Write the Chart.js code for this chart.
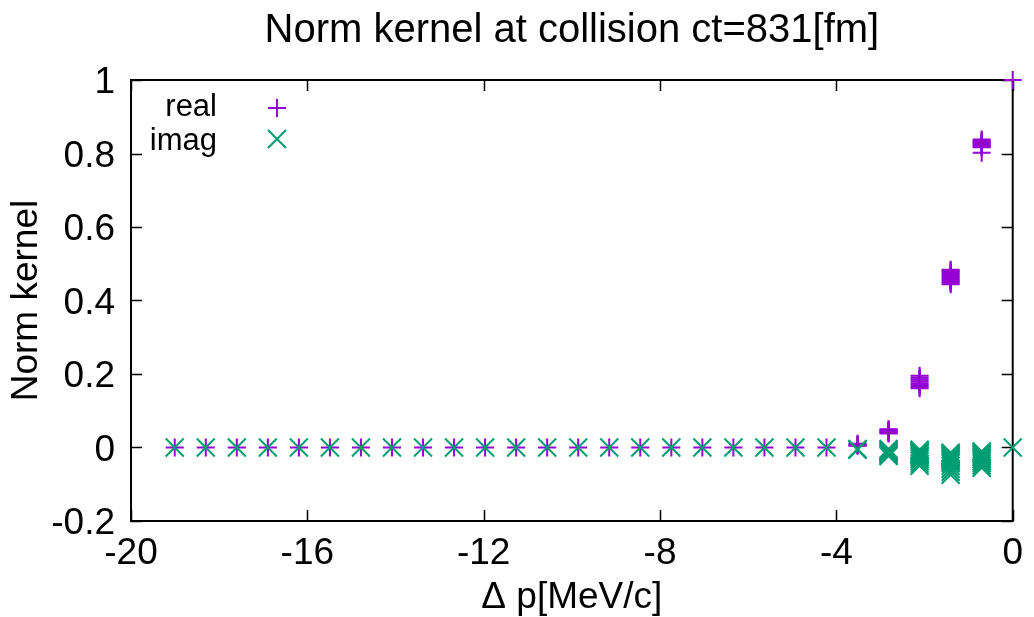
<!DOCTYPE html>
<html><head><meta charset="utf-8">
<script src="https://cdn.jsdelivr.net/npm/chart.js@4/dist/chart.umd.min.js"></script>
<style>html,body{margin:0;padding:0;background:#fff}#wrap{width:1034px;height:617px}</style>
</head><body><div id="wrap"><canvas id="c" width="1034" height="617"></canvas></div>
<script>
// Δp values (MeV/c), one per column of points
const dp = [0, -0.704, -1.408, -2.112, -2.816, -3.52, -4.224, -4.928, -5.632, -6.336,
  -7.04, -7.744, -8.448, -9.152, -9.856, -10.56, -11.264, -11.968, -12.672, -13.376,
  -14.08, -14.784, -15.488, -16.192, -16.896, -17.6, -18.304, -19.008];
// real part: several samples per column
const realVals = [
  [1.0],
  [0.838, 0.835, 0.832, 0.829, 0.826, 0.823, 0.82, 0.817, 0.802],
  [0.484, 0.48, 0.476, 0.472, 0.468, 0.464, 0.46, 0.456, 0.452, 0.448, 0.444],
  [0.195, 0.19, 0.185, 0.18, 0.175, 0.17, 0.165, 0.161],
  [0.05, 0.048, 0.046, 0.044, 0.042, 0.04, 0.038],
  [0.01, 0.008, 0.006, 0.005],
  [0], [0], [0], [0], [0], [0], [0], [0], [0], [0], [0], [0], [0], [0], [0], [0], [0], [0], [0], [0], [0], [0]
];
// imaginary part: several samples per column
const imagVals = [
  [0],
  [-0.011, -0.014, -0.017, -0.02, -0.024, -0.028, -0.032, -0.037, -0.043, -0.049, -0.055],
  [-0.014, -0.017, -0.02, -0.023, -0.026, -0.03, -0.034, -0.038, -0.043, -0.05, -0.058, -0.066, -0.074],
  [-0.006, -0.009, -0.012, -0.015, -0.018, -0.022, -0.026, -0.031, -0.037, -0.044, -0.05],
  [-0.004, -0.007, -0.01, -0.013, -0.016, -0.02, -0.023],
  [-0.004, -0.006],
  [0], [0], [0], [0], [0], [0], [0], [0], [0], [0], [0], [0], [0], [0], [0], [0], [0], [0], [0], [0], [0], [0]
];
const xTicks = [-20, -16, -12, -8, -4, 0];
const yTicks = [-0.2, 0, 0.2, 0.4, 0.6, 0.8, 1];
const seriesNames = ['real', 'imag'];
const seriesColors = ['#9400d3', '#009e73'];
const titleText = 'Norm kernel at collision ct=831[fm]';
const xTitle = '\u0394 p[MeV/c]';
const yTitle = 'Norm kernel';

const FONT = "'Liberation Sans', Arial, Helvetica, sans-serif";

function toPoints(groups) {
  const pts = [];
  groups.forEach((g, i) => g.forEach(v => pts.push({x: dp[i], y: v})));
  return pts;
}

function drawMarker(ctx, style, x, y, color) {
  ctx.save();
  ctx.strokeStyle = color;
  ctx.lineWidth = 2;
  ctx.beginPath();
  if (style === 'cross') {
    ctx.moveTo(x - 9, y); ctx.lineTo(x + 9, y);
    ctx.moveTo(x, y - 9); ctx.lineTo(x, y + 9);
  } else {
    ctx.moveTo(x - 9, y - 9); ctx.lineTo(x + 9, y + 9);
    ctx.moveTo(x + 9, y - 9); ctx.lineTo(x - 9, y + 9);
  }
  ctx.stroke();
  ctx.restore();
}

const frame = {
  id: 'frame',
  beforeDatasetsDraw(chart) {
    const {ctx, chartArea: a, scales: {x, y}} = chart;
    ctx.save();
    ctx.strokeStyle = '#000';
    ctx.lineWidth = 1.5;
    ctx.beginPath();
    xTicks.forEach(v => {
      const px = Math.round(x.getPixelForValue(v)) + 0.5;
      ctx.moveTo(px, a.bottom); ctx.lineTo(px, a.bottom - 11);
      ctx.moveTo(px, a.top); ctx.lineTo(px, a.top + 11);
    });
    yTicks.forEach(v => {
      const py = Math.round(y.getPixelForValue(v)) + 0.5;
      ctx.moveTo(a.left, py); ctx.lineTo(a.left + 11, py);
      ctx.moveTo(a.right, py); ctx.lineTo(a.right - 11, py);
    });
    ctx.stroke();
    ctx.lineWidth = 2;
    ctx.strokeRect(a.left, a.top, a.right - a.left, a.bottom - a.top);
    ctx.restore();
  },
  afterDraw(chart) {
    const {ctx} = chart;
    ctx.save();
    ctx.font = "31px " + FONT;
    ctx.fillStyle = '#000';
    ctx.textAlign = 'right';
    ctx.textBaseline = 'alphabetic';
    ctx.fillText(seriesNames[0], 217, 116);
    ctx.fillText(seriesNames[1], 217, 150);
    ctx.restore();
    drawMarker(ctx, 'cross', 277, 108, seriesColors[0]);
    drawMarker(ctx, 'crossRot', 277, 139, seriesColors[1]);
  }
};

new Chart(document.getElementById('c'), {
  type: 'scatter',
  data: {
    datasets: [
      { label: seriesNames[0], data: toPoints(realVals), pointStyle: 'cross', pointRadius: 9,
        borderColor: seriesColors[0], backgroundColor: seriesColors[0], pointBorderWidth: 2,
        order: 1, clip: false },
      { label: seriesNames[1], data: toPoints(imagVals), pointStyle: 'crossRot', pointRadius: 12.7,
        borderColor: seriesColors[1], backgroundColor: seriesColors[1], pointBorderWidth: 2,
        order: 0, clip: false }
    ]
  },
  options: {
    responsive: false,
    devicePixelRatio: 1,
    animation: false,
    events: [],
    layout: { padding: { left: 0, right: 19, top: 0, bottom: 0 } },
    plugins: {
      legend: { display: false },
      tooltip: { enabled: false },
      title: { display: true, text: titleText, color: '#000', fullSize: false,
        font: { family: FONT, size: 40, weight: 'normal' },
        padding: { top: 7, bottom: 25 } }
    },
    scales: {
      x: {
        type: 'linear', min: -20, max: 0,
        afterBuildTicks(s) { s.ticks = xTicks.map(v => ({ value: v })); },
        afterFit(s) { s.height = 96; },
        grid: { display: false, drawTicks: false, tickLength: 0 },
        border: { display: false },
        ticks: { color: '#000', padding: 11, maxRotation: 0, autoSkip: false,
          font: { family: FONT, size: 37 }, callback: v => String(v) },
        title: { display: true, text: xTitle, color: '#000',
          font: { family: FONT, size: 37 }, padding: { top: 0, bottom: -3 } }
      },
      y: {
        type: 'linear', min: -0.2, max: 1,
        afterBuildTicks(s) { s.ticks = yTicks.map(v => ({ value: v })); },
        afterFit(s) { s.width = 131; },
        grid: { display: false, drawTicks: false, tickLength: 0 },
        border: { display: false },
        ticks: { color: '#000', padding: 16, labelOffset: 3, autoSkip: false,
          font: { family: FONT, size: 37 }, callback: v => String(v) },
        title: { display: true, text: yTitle, color: '#000',
          font: { family: FONT, size: 37 }, padding: { top: 5, bottom: 0 } }
      }
    }
  },
  plugins: [frame]
});
</script></body></html>
